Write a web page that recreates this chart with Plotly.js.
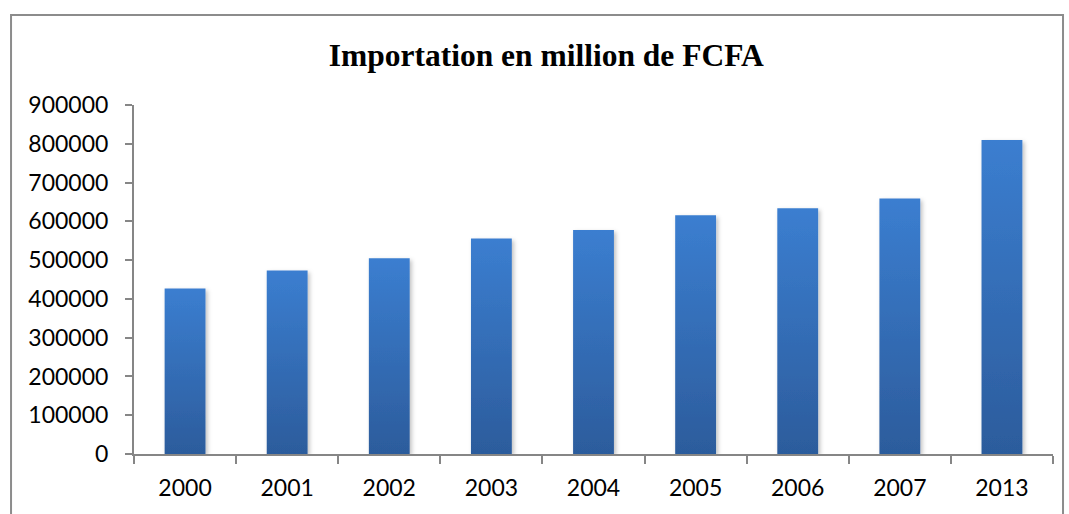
<!DOCTYPE html>
<html>
<head>
<meta charset="utf-8" />
<script src="https://cdn.plot.ly/plotly-3.0.1.min.js"></script>
<style>
  body { margin: 0; background: #fff; }
  #chart { width: 1069px; height: 514px; }
</style>
</head>
<body>
<div id="chart"></div>
<script>
// values
const years = ['2000', '2001', '2002', '2003', '2004', '2005', '2006', '2007', '2013'];
const imports = [427000, 473500, 504500, 556000, 577500, 615500, 633500, 659000, 810000];
const yTicks = [0, 100000, 200000, 300000, 400000, 500000, 600000, 700000, 800000, 900000];

const axisGrey = '#868686';
const tickFont = {family: 'Lato, "Open Sans", sans-serif', size: 23, color: '#000'};

const trace = {
    x: years,
    y: imports,
    type: 'bar',
    marker: {color: '#3670bb', line: {width: 0}},
    hoverinfo: 'x+y'
};

const layout = {
    width: 1069,
    height: 514,
    margin: {l: 134, r: 16, t: 105, b: 60},
    paper_bgcolor: '#fff',
    plot_bgcolor: '#fff',
    bargap: 0.6,
    showlegend: false,
    title: {
        text: 'Importation en million de FCFA',
        font: {family: '"Liberation Serif", "Times New Roman", serif', size: 31.5, weight: 'bold', color: '#000'},
        xref: 'container', x: 0.511,
        yref: 'container', y: 0.893, yanchor: 'middle'
    },
    xaxis: {
        type: 'category',
        showgrid: false,
        showline: true, linecolor: axisGrey, linewidth: 2,
        ticks: 'outside', tickson: 'boundaries', ticklen: 8, tickwidth: 2, tickcolor: axisGrey,
        ticklabelstandoff: 12,
        tickfont: tickFont
    },
    yaxis: {
        range: [0, 900000],
        tickvals: yTicks,
        tickformat: 'd',
        showgrid: false, zeroline: false,
        showline: true, linecolor: axisGrey, linewidth: 2,
        ticks: 'outside', ticklen: 7, tickwidth: 2, tickcolor: axisGrey,
        ticklabelstandoff: 12,
        tickfont: tickFont
    },
    shapes: [{
        type: 'rect', xref: 'paper', yref: 'paper',
        x0: -0.1338, x1: 1.0109, y0: -0.2, y1: 1.2579,
        line: {color: '#8c8c8c', width: 2}, fillcolor: 'rgba(0,0,0,0)'
    }]
};

Plotly.newPlot('chart', [trace], layout, {displayModeBar: false, responsive: false}).then(function (gd) {
    // Excel-like vertical gradient and soft shadow on each bar
    const svg = gd.querySelector('svg.main-svg');
    const ns = 'http://www.w3.org/2000/svg';
    const defs = document.createElementNS(ns, 'defs');
    defs.innerHTML =
        '<linearGradient id="barGrad" x1="0" y1="0" x2="0" y2="1">' +
        '<stop offset="0" stop-color="#3b7ed0"/>' +
        '<stop offset="1" stop-color="#2c5c9c"/>' +
        '</linearGradient>' +
        '<filter id="barShadow" x="-20%" y="-5%" width="150%" height="115%">' +
        '<feDropShadow dx="2" dy="2" stdDeviation="2" flood-color="#000" flood-opacity="0.25"/>' +
        '</filter>';
    svg.insertBefore(defs, svg.firstChild);
    gd.querySelectorAll('.barlayer .point path').forEach(function (p) {
        p.style.fill = 'url(#barGrad)';
        p.setAttribute('filter', 'url(#barShadow)');
    });
});
</script>
</body>
</html>
